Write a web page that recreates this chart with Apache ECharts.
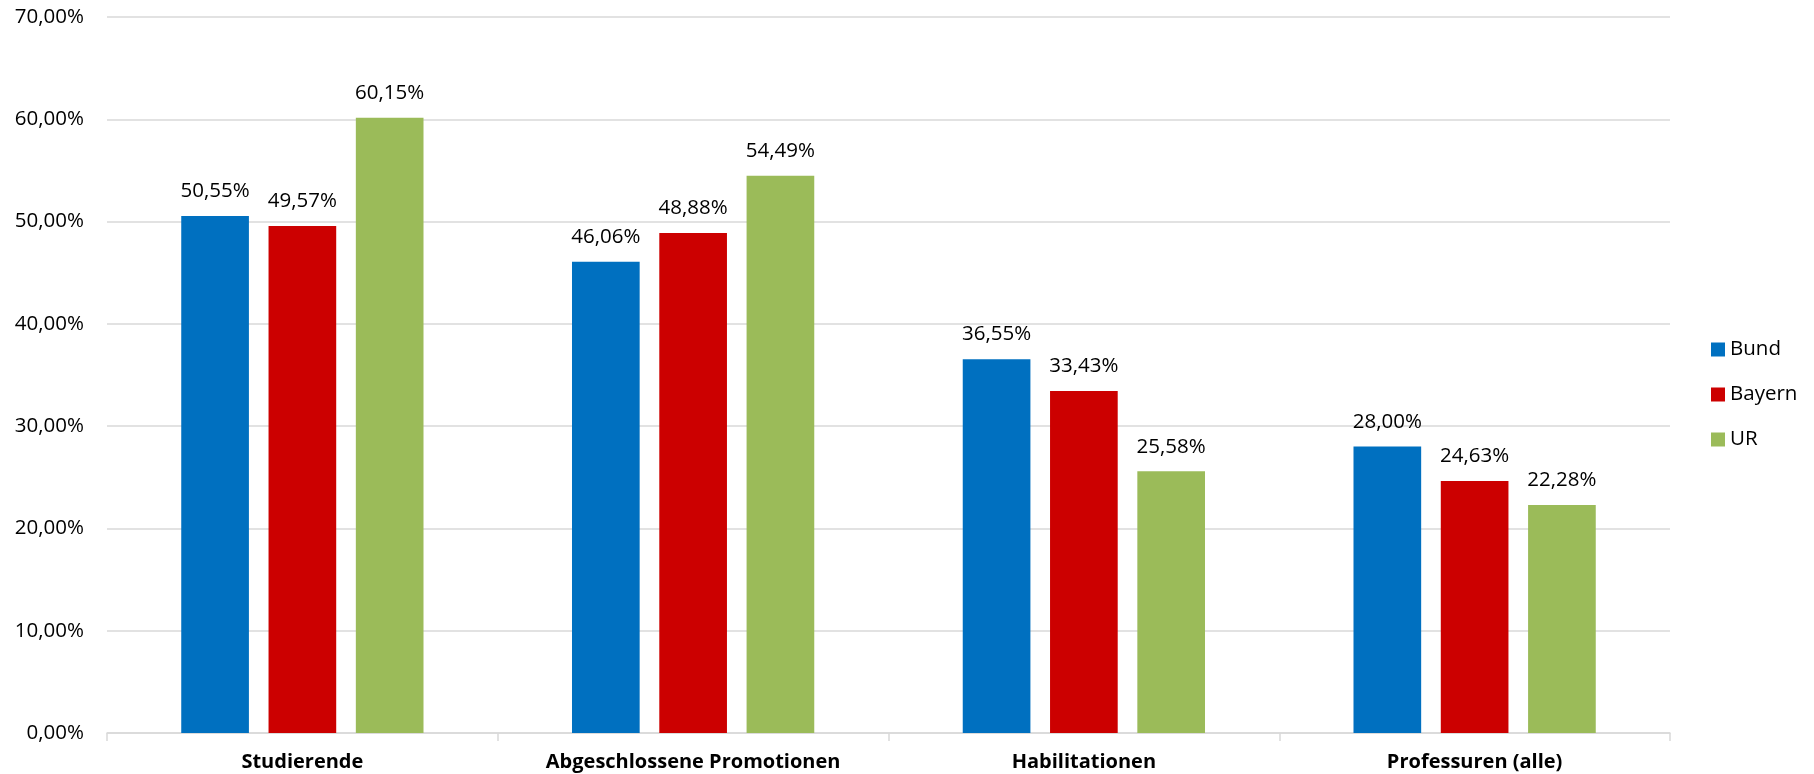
<!DOCTYPE html>
<html><head><meta charset="utf-8">
<script src="https://cdn.jsdelivr.net/npm/echarts@6/dist/echarts.min.js"></script>
<style>html,body{margin:0;padding:0;background:#fff}#c{width:1814px;height:774px}</style>
</head><body><div id="c"></div>
<script>
const categories = ['Studierende', 'Abgeschlossene Promotionen', 'Habilitationen', 'Professuren (alle)'];
const bund = [50.55, 46.06, 36.55, 28.00];
const bayern = [49.57, 48.88, 33.43, 24.63];
const ur = [60.15, 54.49, 25.58, 22.28];
const seriesNames = ['Bund', 'Bayern', 'UR'];
const colors = ['#0070C0', '#CC0000', '#9BBB59'];

const fmt = v => v.toFixed(2).replace('.', ',') + '%';
const font = 'Open Sans';
const chart = echarts.init(document.getElementById('c'));
const mk = (name, data, color) => ({
  name, type: 'bar', data,
  itemStyle: { color },
  barGap: '29%', barCategoryGap: '38%',
  label: { show: true, position: 'top', distance: 14, formatter: p => fmt(p.value),
           color: '#000', fontFamily: font, fontSize: 20.5 }
});
chart.setOption({
  animation: false,
  color: colors,
  textStyle: { fontFamily: font },
  grid: { left: 107, right: 144, top: 17, bottom: 41, containLabel: false },
  legend: {
    orient: 'vertical', left: 1706, top: 334,
    icon: 'rect', itemWidth: 14, itemHeight: 14, itemGap: 24,
    textStyle: { fontFamily: font, fontSize: 20.5, color: '#000', lineHeight: 21, padding: [0,0,0,0] },
    data: seriesNames
  },
  xAxis: {
    type: 'category', data: categories,
    axisLine: { lineStyle: { color: '#d9d9d9', width: 1.5 } },
    axisTick: { show: true, length: 8, lineStyle: { color: '#d9d9d9', width: 1.5 } },
    axisLabel: { color: '#000', fontFamily: font, fontSize: 20, fontWeight: 'bold', margin: 19 }
  },
  yAxis: {
    type: 'value', min: 0, max: 70, interval: 10,
    axisLine: { show: false }, axisTick: { show: false },
    splitLine: { lineStyle: { color: '#d9d9d9', width: 1.5 } },
    axisLabel: { color: '#000', fontFamily: font, fontSize: 20.5, margin: 23, formatter: v => fmt(v) }
  },
  series: [mk(seriesNames[0], bund, colors[0]), mk(seriesNames[1], bayern, colors[1]), mk(seriesNames[2], ur, colors[2])]
});
</script></body></html>
